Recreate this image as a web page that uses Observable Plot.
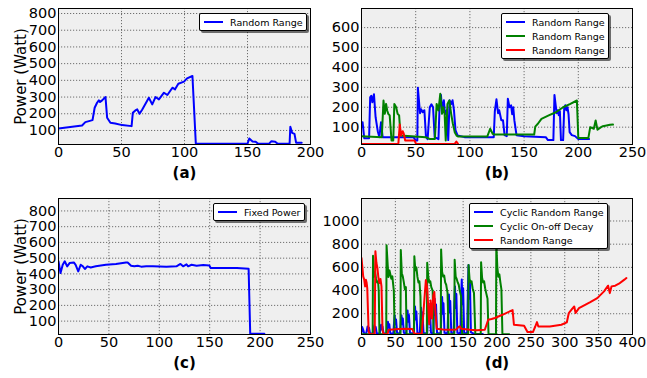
<!DOCTYPE html>
<html><head><meta charset="utf-8">
<script src="https://cdn.jsdelivr.net/npm/d3@7"></script>
<script src="https://cdn.jsdelivr.net/npm/@observablehq/plot@0.6"></script>
<style>
body{margin:0;background:#fff;font-family:"DejaVu Sans",sans-serif;}
#root{position:relative;width:647px;height:378px;overflow:hidden;background:#fff;}
.panel{position:absolute;}
.legend{position:absolute;background:#fff;border:1px solid #000;border-radius:2px;box-shadow:2px 2px 0 rgba(0,0,0,0.55);font-size:9.5px;padding:1px 3.5px 1px 3.5px;font-family:"DejaVu Sans",sans-serif;white-space:nowrap;}
.row{display:flex;align-items:center;height:14px;}
.sw{display:inline-block;width:19px;height:2px;margin-right:7.6px;}
</style>
</head><body><div id="root"></div>
<script>
// ---------- data ----------
const xTicksA = [0, 50, 100, 150, 200];
const yTicksA = [100, 200, 300, 400, 500, 600, 700, 800];
const xTicksB = [0, 50, 100, 150, 200, 250];
const yTicksB = [100, 200, 300, 400, 500, 600];
const xTicksC = [0, 50, 100, 150, 200, 250];
const yTicksC = [100, 200, 300, 400, 500, 600, 700, 800];
const xTicksD = [0, 50, 100, 150, 200, 250, 300, 350, 400];
const yTicksD = [200, 400, 600, 800, 1000];

const panelLabels = ["(a)", "(b)", "(c)", "(d)"];
const yLabel = "Power (Watt)";

// (a) Random Range
const aRandom = [[0,112],[18.7,130],[21.3,150],[27,162],[28.7,236],[30.6,266],[32,280],[33,270],[34.6,280],[37.3,300],[38.6,176],[41.2,146],[45,142],[50.5,132],[58,126],[59,206],[61,220],[62.5,226],[64.3,200],[66.5,226],[71.7,296],[74.4,256],[77,300],[79.7,286],[83.7,326],[86.4,312],[90.4,356],[92.5,346],[95.1,380],[99.6,392],[102,412],[106.3,426],[109,20],[150,20],[151.4,52],[154,34],[156.5,32],[158.5,20],[167,20],[169,36],[172,32],[174,20],[183.4,20],[184,122],[185.4,86],[187.3,80],[188.6,26],[193,26]];

// (b) three Random Range runs
const bBlue = [[0,100],[1,125],[2.5,45],[7,45],[8,250],[9,258],[10,225],[11.5,265],[13,150],[15,80],[16.5,50],[18,125],[19.5,50],[48,50],[50,33],[51.5,33],[52,298],[54,170],[55,190],[56.5,175],[58,185],[59.5,50],[61,40],[63,200],[64.5,215],[66,200],[67.5,50],[71,40],[72,200],[73.3,262],[74.3,185],[76,235],[77,165],[78.7,185],[80,35],[81.3,235],[82.7,215],[84,235],[85.3,185],[86.7,85],[88.7,58],[95,50],[122,50],[123,180],[124.5,240],[126,170],[127,185],[129,135],[130.5,135],[132,60],[134,55],[135,243],[136.5,200],[138,210],[139,165],[140,200],[141,135],[143,60],[150,55],[170,50],[172,35],[177,35],[178,262],[180,170],[181,185],[182,160],[183,180],[184,35],[186,35],[187,195],[188,210],[189,185],[190,200],[191,165],[192,75],[194,60],[197,55],[200,40],[210,40]];
const bGreen = [[0,55],[18.7,50],[20.3,234],[21.5,167],[22.7,217],[23.7,184],[24.7,167],[26,159],[27.7,33],[29.3,33],[30.3,217],[32,200],[33.3,167],[34.7,159],[36,58],[59.3,50],[62.7,41],[67.7,41],[69.3,217],[71,184],[72.7,268],[74.3,167],[75.5,200],[76.7,167],[77.7,33],[79.3,217],[81,234],[82.7,167],[84.3,117],[86,75],[87.7,58],[89.3,53],[116,53],[118.7,92],[121,67],[122.7,63],[159.3,63],[160.3,103],[162.7,117],[166,142],[172.7,159],[179.3,175],[186,200],[192.7,217],[198.7,234],[200,46],[209.3,46],[211,100],[214.3,92],[216,134],[217.7,87],[221,100],[222.7,105],[229.3,112],[232,113]];
const bRed = [[0,16],[34,16],[35.3,113],[36.5,58],[38,80],[39,67],[40.3,33],[49,33],[50.3,16],[86,16],[87.5,28],[89,16]];

// (c) Fixed Power
const cFixed = [[0,480],[2,405],[4.2,458],[6.2,480],[8.6,448],[11,469],[15.2,473],[17,458],[19.6,416],[22,458],[24.2,448],[26.2,431],[28.6,448],[32,441],[37,448],[47,458],[57,463],[67,473],[68.6,473],[72,452],[75.2,448],[78.6,452],[82,446],[87,448],[93.6,448],[107,446],[117,448],[121,463],[123.6,448],[127,461],[128.6,448],[132,458],[137,452],[143.6,456],[149.6,454],[151,437],[163.6,437],[177,437],[188.6,433],[190.2,19],[204.2,19]];

// (d) three policies
const dCyclicRandom = [[0,40],[1,85],[2,70],[3,50],[4,30],[7,30],[8,60],[9,90],[10,55],[11,80],[12.5,30],[17,30],[18,70],[19,100],[20,60],[21,85],[22.5,30],[27,30],[28,75],[29,105],[30,65],[31,90],[32.5,30],[37,30],[38,90],[39,130],[40,80],[41,110],[42.5,30],[47,30],[48,120],[49,185],[50,110],[51,150],[52.5,35],[57,30],[58,130],[59,186],[60,110],[61,160],[62.5,35],[66,30],[67,150],[68,229],[69,130],[70,190],[71.5,35],[77,30],[78,170],[79,263],[80,150],[81,220],[82.5,35],[86,30],[87,160],[88,252],[89,150],[90,210],[91.5,35],[97,30],[98,190],[99,286],[100,170],[101,240],[102.5,35],[106,30],[107,220],[108,330],[109,190],[110,280],[111.5,35],[117,30],[118,230],[119,344],[120,200],[121,290],[122.5,35],[127,30],[128,250],[129,367],[130,210],[131,310],[132.5,35],[136,30],[137,290],[138,436],[139,250],[140,370],[141.5,35],[146,30],[147,330],[148,495],[149,280],[150,420],[151.5,35],[156,30],[157,400],[158,620],[159,330],[160,480],[161.5,40],[165,30],[166,25],[179,25]];
const dCyclicOnOff = [[0,24],[16.5,24],[17,700],[18.5,520],[20,560],[21.5,500],[23,470],[24.5,480],[25.5,390],[26.5,24],[36.5,24],[37,790],[39.7,517],[41.3,574],[44,502],[45.5,522],[47.7,400],[49,24],[57.5,24],[58,750],[59.5,550],[61,520],[62.5,470],[64,410],[65.5,430],[66.5,24],[77.5,24],[78,695],[79.5,575],[81,600],[82.5,520],[84,470],[85.5,480],[87,350],[88,24],[96.5,24],[97,640],[98.5,520],[100,470],[101.5,480],[103,430],[105,400],[106.5,24],[117,24],[117.5,755],[119,560],[120.5,520],[122,530],[123.5,470],[125,450],[127,380],[128.5,24],[137,24],[137.5,665],[139,520],[140.5,500],[142,470],[143.5,450],[145,400],[147,350],[148.5,24],[157.5,24],[158,620],[159.5,500],[161,470],[162.5,480],[164,420],[166,380],[168,24],[176,24],[176.5,645],[178,510],[179.5,470],[181,480],[182.5,420],[184,380],[186,330],[187.5,24],[198.5,24],[199,800],[200.5,600],[202,520],[203.5,540],[205,470],[206.5,410],[208,24],[218,24]];
const dRandom = [[0,680],[1,620],[2.5,522],[4,494],[5.3,436],[6.5,494],[7.5,470],[8.5,422],[10.5,50],[12,24],[19.5,24],[20.5,740],[22,640],[23.5,594],[25,508],[26.5,465],[28,500],[29.5,436],[31,60],[32.5,24],[38.5,24],[40,63],[46,65],[55,68],[65,70],[75,68],[78,30],[89,27],[95,490],[97,420],[98.5,257],[100,110],[102,315],[104,160],[106,360],[107.5,387],[109,229],[111,70],[120,65],[130,62],[140,65],[143,85],[145,92],[147,70],[160,62],[170,58],[182,62],[187,148],[192,154],[197,163],[208,191],[223,232],[225,105],[240,96],[245,42],[253,42],[256.5,90],[259,128],[261,90],[278,90],[295,105],[303,125],[306,206],[310,235],[314,263],[316,206],[321,249],[337,298],[348,335],[358,393],[364,442],[366.5,378],[369,436],[374.5,442],[380,459],[388,494],[391,508]];

const BLUE = "#0000ff", GREEN = "#008000", RED = "#ff0000";

// ---------- drawing ----------
const root = document.getElementById("root");
const toObj = arr => arr.map(([x, y]) => ({x, y}));

function panel(cfg) {
  const marks = [
    Plot.frame({fill: "#efefef", stroke: null}),
    Plot.gridX(cfg.xTicks, {stroke: "#000", strokeOpacity: 0.6, strokeDasharray: "1.2,1.8", strokeWidth: 0.9}),
    Plot.gridY(cfg.yTicks, {stroke: "#000", strokeOpacity: 0.6, strokeDasharray: "1.2,1.8", strokeWidth: 0.9}),
    ...cfg.series.map(s => Plot.line(toObj(s.data), {x: "x", y: "y", stroke: s.color, strokeWidth: 2, clip: true})),
    Plot.frame({stroke: "#000", strokeWidth: 1}),
    Plot.axisX(cfg.xTicks, {tickSize: 0, tickPadding: 2, fontSize: 14.5, label: null, tickFormat: d => String(d)}),
    Plot.axisY(cfg.yTicks, {tickSize: 0, tickPadding: 2, fontSize: 14.5, label: null, tickFormat: d => String(d)}),
    Plot.text([cfg.label], {text: d => d, frameAnchor: "bottom", dy: 33, fontWeight: "bold", fontSize: 15, fill: "#000"})
  ];
  if (cfg.ylabel) marks.push(Plot.text([cfg.ylabel], {text: d => d, frameAnchor: "left", textAnchor: "middle", dx: -37, rotate: -90, fontSize: 15, fill: "#000"}));
  const svg = Plot.plot({
    width: cfg.width, height: cfg.height,
    marginLeft: cfg.ml, marginRight: cfg.mr, marginTop: cfg.mt, marginBottom: cfg.mb,
    style: {fontFamily: "DejaVu Sans, sans-serif", overflow: "visible", background: "transparent", color: "#000"},
    x: {domain: cfg.xDomain},
    y: {domain: cfg.yDomain},
    marks
  });
  svg.classList.add("panel");
  svg.style.left = cfg.left + "px";
  svg.style.top = cfg.top + "px";
  root.appendChild(svg);

  const lg = document.createElement("div");
  lg.className = "legend";
  lg.style.left = cfg.legendPos[0] + "px";
  lg.style.top = cfg.legendPos[1] + "px";
  cfg.series.forEach(s => {
    const r = document.createElement("div"); r.className = "row";
    const sw = document.createElement("span"); sw.className = "sw"; sw.style.background = s.color;
    const t = document.createElement("span"); t.textContent = s.name;
    r.appendChild(sw); r.appendChild(t); lg.appendChild(r);
  });
  root.appendChild(lg);
}

panel({left: 0, top: 0, width: 320, height: 190, ml: 58, mr: 10, mt: 8, mb: 46,
  xDomain: [0, 200], yDomain: [16, 830], xTicks: xTicksA, yTicks: yTicksA,
  series: [{name: "Random Range", color: BLUE, data: aRandom}],
  label: panelLabels[0], ylabel: yLabel, legendPos: [199, 13]});

panel({left: 320, top: 0, width: 327, height: 190, ml: 41, mr: 15, mt: 8, mb: 46,
  xDomain: [0, 250], yDomain: [13, 696], xTicks: xTicksB, yTicks: yTicksB,
  series: [{name: "Random Range", color: BLUE, data: bBlue}, {name: "Random Range", color: GREEN, data: bGreen}, {name: "Random Range", color: RED, data: bRed}],
  label: panelLabels[1], legendPos: [501, 13]});

panel({left: 0, top: 190, width: 320, height: 188, ml: 58, mr: 10, mt: 8, mb: 44,
  xDomain: [0, 250], yDomain: [15, 879], xTicks: xTicksC, yTicks: yTicksC,
  series: [{name: "Fixed Power", color: BLUE, data: cFixed}],
  label: panelLabels[2], ylabel: yLabel, legendPos: [213, 203]});

panel({left: 320, top: 190, width: 327, height: 188, ml: 41, mr: 15, mt: 8, mb: 44,
  xDomain: [0, 400], yDomain: [21, 1194], xTicks: xTicksD, yTicks: yTicksD,
  series: [{name: "Cyclic Random Range", color: BLUE, data: dCyclicRandom}, {name: "Cyclic On-off Decay", color: GREEN, data: dCyclicOnOff}, {name: "Random Range", color: RED, data: dRandom}],
  label: panelLabels[3], legendPos: [469, 203]});
</script>
</body></html>
